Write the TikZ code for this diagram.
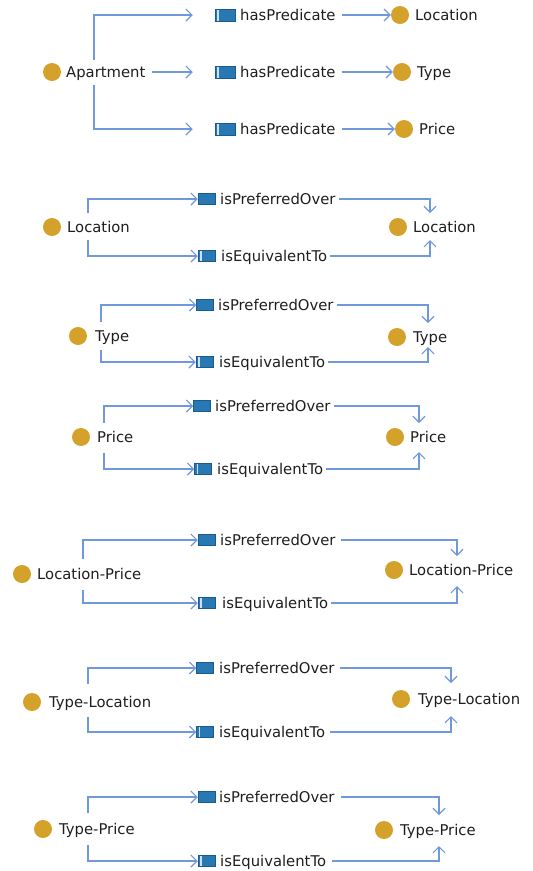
\documentclass[tikz,border=0pt]{standalone}
\usepackage{fontspec}
\setmainfont{DejaVu Sans}
\usetikzlibrary{arrows.meta}

\definecolor{classgold}{RGB}{212,161,42}
\definecolor{linkblue}{RGB}{112,152,220}
\definecolor{propfill}{RGB}{40,120,180}
\definecolor{propedge}{RGB}{26,90,140}
\definecolor{propstripe}{RGB}{205,225,242}
\definecolor{textgray}{RGB}{30,30,30}

\tikzset{
  classdot/.style={circle, fill=classgold, minimum size=18pt, inner sep=0pt},
  lbl/.style={anchor=base west, inner sep=0pt, yshift=-5.3pt, text=textgray,
              font=\fontsize{14.8}{16}\selectfont},
  propicon/.style={rectangle, fill=propfill, draw=propedge, line width=0.5pt,
                   minimum width=17pt, minimum height=11pt, inner sep=0pt},
  bigicon/.style={propicon, minimum width=20pt, minimum height=12pt},
  striped/.style={path picture={
      \draw[propstripe, line width=1.1pt]
        ([xshift=3pt]path picture bounding box.south west) --
        ([xshift=3pt]path picture bounding box.north west);}},
  link/.style={draw=linkblue, line width=1.2pt,
               -{Straight Barb[length=6pt, width=12pt, line width=1.2pt]}},
  linkgap/.style={link, shorten >=22pt},
}

\begin{document}
\begin{tikzpicture}[x=1pt, y=-1pt]
\useasboundingbox (0,0) rectangle (533,871);

% ---------- Apartment and its predicates ----------
\node[classdot] (aptd) at (52,72) {};
\node[lbl] (aptl) at (66,72) {Apartment};
\coordinate (apttop) at (94,60);
\coordinate (aptbot) at (94,85);

\node[bigicon, striped] (hp1i) at (225,15) {};
\node[lbl] (hp1t) at (240,15) {hasPredicate};
\node[bigicon, striped] (hp2i) at (225,72) {};
\node[lbl] (hp2t) at (240,72) {hasPredicate};
\node[bigicon, striped] (hp3i) at (225,129) {};
\node[lbl] (hp3t) at (240,129) {hasPredicate};

\node[classdot] (o1d) at (400,15) {};
\node[lbl] (o1l) at (415,15) {Location};
\node[classdot] (o2d) at (402,72) {};
\node[lbl] (o2l) at (417,72) {Type};
\node[classdot] (o3d) at (404,129) {};
\node[lbl] (o3l) at (419,129) {Price};

\draw[linkgap] (apttop) |- (hp1i.west);
\draw[linkgap, shorten <=6pt] (aptl.east |- aptd) -- (hp2i.west);
\draw[linkgap] (aptbot) |- (hp3i.west);
\draw[link, shorten <=6pt] (hp1t.east |- hp1i) -- (o1d.west);
\draw[link, shorten <=6pt] (hp2t.east |- hp2i) -- (o2d.west);
\draw[link, shorten <=6pt] (hp3t.east |- hp3i) -- (o3d.west);

% ---------- Location ----------
\node[classdot] (s2ld) at (52,227) {};
\node[lbl] (s2ll) at (67,227) {Location};
\node[propicon] (s2pi) at (206.5,199) {};
\node[lbl] (s2pt) at (220,199) {isPreferredOver};
\node[propicon, striped] (s2ei) at (206.5,256) {};
\node[lbl] (s2et) at (221,256) {isEquivalentTo};
\node[classdot] (s2rd) at (398,227) {};
\node[lbl] (s2rl) at (413,227) {Location};
\coordinate (s2a) at (88,213);
\coordinate (s2b) at (88,240);
\coordinate (s2c) at (430,213);
\coordinate (s2d) at (430,240);
\draw[link] (s2a) |- (s2pi.west);
\draw[link] (s2b) |- (s2ei.west);
\draw[link, shorten <=3pt] (s2pt.east |- s2pi) -| (s2c);
\draw[link, shorten <=3pt] (s2et.east |- s2ei) -| (s2d);

% ---------- Type ----------
\node[classdot] (s3ld) at (78,336) {};
\node[lbl] (s3ll) at (95,336) {Type};
\node[propicon] (s3pi) at (205,305) {};
\node[lbl] (s3pt) at (218,305) {isPreferredOver};
\node[propicon, striped] (s3ei) at (204.5,362) {};
\node[lbl] (s3et) at (219,362) {isEquivalentTo};
\node[classdot] (s3rd) at (397,337) {};
\node[lbl] (s3rl) at (413,337) {Type};
\coordinate (s3a) at (101,322);
\coordinate (s3b) at (101,350);
\coordinate (s3c) at (428,323);
\coordinate (s3d) at (428,347);
\draw[link] (s3a) |- (s3pi.west);
\draw[link] (s3b) |- (s3ei.west);
\draw[link, shorten <=3pt] (s3pt.east |- s3pi) -| (s3c);
\draw[link, shorten <=3pt] (s3et.east |- s3ei) -| (s3d);

% ---------- Price ----------
\node[classdot] (s4ld) at (81,437) {};
\node[lbl] (s4ll) at (97,437) {Price};
\node[propicon] (s4pi) at (202,406) {};
\node[lbl] (s4pt) at (215,406) {isPreferredOver};
\node[propicon, striped] (s4ei) at (203,469) {};
\node[lbl] (s4et) at (217,469) {isEquivalentTo};
\node[classdot] (s4rd) at (395,437) {};
\node[lbl] (s4rl) at (410,437) {Price};
\coordinate (s4a) at (104,423);
\coordinate (s4b) at (104,453);
\coordinate (s4c) at (419,423);
\coordinate (s4d) at (419,452);
\draw[link] (s4a) |- (s4pi.west);
\draw[link] (s4b) |- (s4ei.west);
\draw[link, shorten <=3pt] (s4pt.east |- s4pi) -| (s4c);
\draw[link, shorten <=3pt] (s4et.east |- s4ei) -| (s4d);

% ---------- Location-Price ----------
\node[classdot] (s5ld) at (22,574) {};
\node[lbl] (s5ll) at (37,574) {Location-Price};
\node[propicon] (s5pi) at (206.5,540) {};
\node[lbl] (s5pt) at (220,540) {isPreferredOver};
\node[propicon, striped] (s5ei) at (206.5,603) {};
\node[lbl] (s5et) at (222,603) {isEquivalentTo};
\node[classdot] (s5rd) at (394,570) {};
\node[lbl] (s5rl) at (409,570) {Location-Price};
\coordinate (s5a) at (83,559);
\coordinate (s5b) at (83,590);
\coordinate (s5c) at (457,556);
\coordinate (s5d) at (457,586);
\draw[link] (s5a) |- (s5pi.west);
\draw[link] (s5b) |- (s5ei.west);
\draw[link, shorten <=5pt] (s5pt.east |- s5pi) -| (s5c);
\draw[link, shorten <=3pt] (s5et.east |- s5ei) -| (s5d);

% ---------- Type-Location ----------
\node[classdot] (s6ld) at (32,702) {};
\node[lbl] (s6ll) at (49,702) {Type-Location};
\node[propicon] (s6pi) at (205,668) {};
\node[lbl] (s6pt) at (219,668) {isPreferredOver};
\node[propicon, striped] (s6ei) at (205,732) {};
\node[lbl] (s6et) at (219,732) {isEquivalentTo};
\node[classdot] (s6rd) at (401,699) {};
\node[lbl] (s6rl) at (418,699) {Type-Location};
\coordinate (s6a) at (88,684);
\coordinate (s6b) at (88,717);
\coordinate (s6c) at (451,683);
\coordinate (s6d) at (451,716);
\draw[link] (s6a) |- (s6pi.west);
\draw[link] (s6b) |- (s6ei.west);
\draw[link, shorten <=5pt] (s6pt.east |- s6pi) -| (s6c);
\draw[link, shorten <=5pt] (s6et.east |- s6ei) -| (s6d);

% ---------- Type-Price ----------
\node[classdot] (s7ld) at (43,829) {};
\node[lbl] (s7ll) at (59,829) {Type-Price};
\node[propicon] (s7pi) at (206.5,797) {};
\node[lbl] (s7pt) at (219,797) {isPreferredOver};
\node[propicon, striped] (s7ei) at (206.5,861) {};
\node[lbl] (s7et) at (220,861) {isEquivalentTo};
\node[classdot] (s7rd) at (384,830) {};
\node[lbl] (s7rl) at (400,830) {Type-Price};
\coordinate (s7a) at (88,813);
\coordinate (s7b) at (88,845);
\coordinate (s7c) at (439,815);
\coordinate (s7d) at (439,846);
\draw[link] (s7a) |- (s7pi.west);
\draw[link] (s7b) |- (s7ei.west);
\draw[link, shorten <=6pt] (s7pt.east |- s7pi) -| (s7c);
\draw[link, shorten <=6pt] (s7et.east |- s7ei) -| (s7d);
\end{tikzpicture}
\end{document}
